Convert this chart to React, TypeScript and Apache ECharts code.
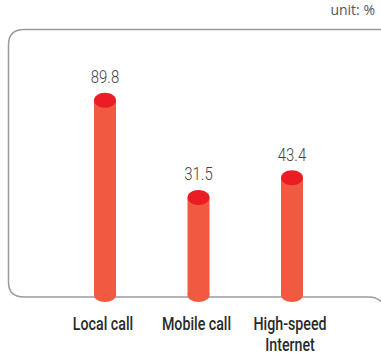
import React, { useEffect, useRef } from "react";
import * as echarts from "echarts";

const categories = ["Local call", "Mobile call", "High-speed\nInternet"];
const values = [89.8, 31.5, 43.4];
const unitLabel = "unit: %";

const Y_MIN = -27;
const Y_MAX = 132;
const BODY = "#f15a40";
const TOP = "#ec1c24";

const boxPath =
  "M381 29.5 L24 29.5 Q8.5 29.5 8.5 45 L8.5 282 Q8.5 297 24 297 L369 297 Q376 297 381 301.5";

let registered = false;

export default function App() {
  const ref = useRef<HTMLDivElement>(null);
  useEffect(() => {
    document.body.style.margin = "0";
    if (!registered) {
      echarts.graphic.registerShape("boxframe", echarts.graphic.extendPath(boxPath, {}) as any);
      registered = true;
    }
    const chart = echarts.init(ref.current!, null, { renderer: "svg" });
    const rx = 11;
    const ry = 7;
    chart.setOption({
      animation: false,
      backgroundColor: "#ffffff",
      grid: { left: 58.25, right: 42.25, top: 30, bottom: 60 },
      xAxis: {
        type: "category",
        data: categories,
        axisLine: { show: false },
        axisTick: { show: false },
        axisLabel: { show: false },
      },
      yAxis: {
        type: "value",
        min: Y_MIN,
        max: Y_MAX,
        show: false,
        splitLine: { show: false },
      },
      graphic: [
        {
          type: "boxframe",
          x: 0,
          y: 0,
          z: -1,
          style: { fill: "none", stroke: "#9b9b9b", lineWidth: 1.5 },
        },
        {
          type: "text",
          right: 6,
          top: 2,
          style: {
            text: unitLabel,
            fill: "#555",
            fontSize: 14,
            fontFamily: "'Open Sans', Roboto, sans-serif",
            fontWeight: 400,
          },
        },
      ],
      series: [
        {
          type: "custom",
          data: values.map((v, i) => [i, v]),
          encode: { x: 0, y: 1 },
          renderItem: (params: any, api: any) => {
            const idx = api.value(0);
            const top = api.coord([idx, api.value(1)]);
            const base = api.coord([idx, Y_MIN]);
            return {
              type: "group",
              children: [
                {
                  type: "rect",
                  shape: { x: top[0] - rx, y: top[1], width: rx * 2, height: base[1] - top[1] },
                  style: { fill: BODY },
                },
                {
                  type: "ellipse",
                  shape: { cx: base[0], cy: base[1], rx, ry },
                  style: { fill: BODY },
                },
                {
                  type: "ellipse",
                  shape: { cx: top[0], cy: top[1], rx, ry: 7.5 },
                  style: { fill: TOP },
                },
                {
                  type: "text",
                  x: top[0],
                  y: top[1] - 23,
                  scaleX: 0.83,
                  style: {
                    text: String(api.value(1)),
                    x: 0,
                    y: 0,
                    align: "center",
                    verticalAlign: "middle",
                    fill: "#444",
                    fontSize: 18,
                    fontFamily: "Roboto",
                    fontWeight: 300,
                  },
                },
                {
                  type: "text",
                  x: base[0] - 2,
                  y: base[1] + 18,
                  scaleX: 0.79,
                  style: {
                    text: categories[idx],
                    x: 0,
                    y: 0,
                    align: "center",
                    verticalAlign: "top",
                    lineHeight: 21,
                    fill: "#2a2a2a",
                    fontSize: 18,
                    fontFamily: "Roboto",
                    fontWeight: 500,
                  },
                },
              ],
            };
          },
        },
      ],
    });
    return () => chart.dispose();
  }, []);
  return <div ref={ref} style={{ width: 381, height: 355 }} />;
}
